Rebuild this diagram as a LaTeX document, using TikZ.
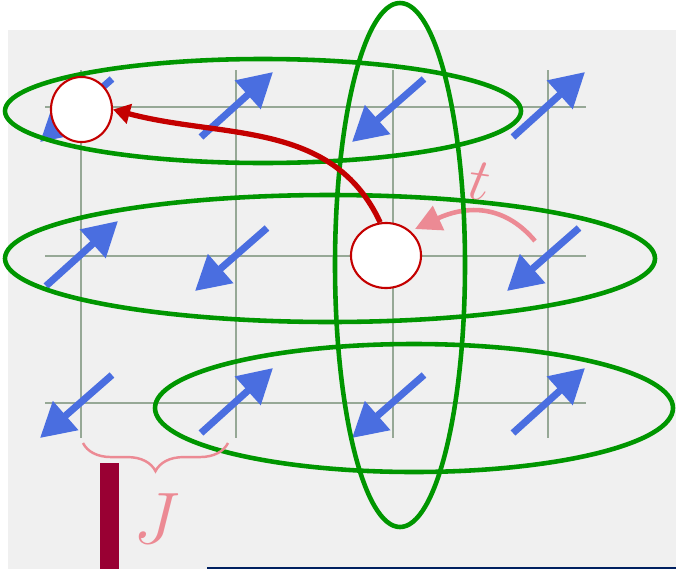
\documentclass[tikz,border=0pt]{standalone}
\usepackage{amsmath,amssymb}
\usepackage{tikz}
\usetikzlibrary{arrows.meta,positioning,shapes.geometric,decorations.pathreplacing}
\definecolor{spinblue}{RGB}{74,110,224}
\definecolor{ringgreen}{RGB}{0,150,0}
\definecolor{holered}{RGB}{196,0,0}
\definecolor{hoppink}{RGB}{236,138,148}
\definecolor{gridgreen}{RGB}{150,168,150}
\definecolor{barmaroon}{RGB}{153,0,51}
\definecolor{linenavy}{RGB}{0,32,96}
\tikzset{
  lattice-line/.style={draw=gridgreen, line width=0.45pt},
  spin-arrow/.style={draw=spinblue, line width=2pt, -{Triangle[length=9.7pt,width=10.5pt]}},
  cluster-ring/.style={draw=ringgreen, line width=1.3pt},
  hole-site/.style={ellipse, draw=holered, fill=white, line width=0.6pt, inner sep=0pt},
  hop-arrow/.style={draw=holered, line width=1.5pt, -{Triangle[length=4.8pt,width=5.6pt]}},
  exchange-arrow/.style={draw=hoppink, line width=1.3pt, -{Triangle[length=7.4pt,width=7.4pt]}}
}

\begin{document}
\begin{tikzpicture}[>=Latex, x=0.01cm, y=0.01cm]
  \useasboundingbox (0,0) rectangle (676,569);
  % paper background
  \fill[white] (0,0) rectangle (676,569);
  \fill[black!6] (8,0) rectangle (676,539);

  % lattice
  \draw[lattice-line] (45,462) -- (586,462);
  \draw[lattice-line] (45,313) -- (586,313);
  \draw[lattice-line] (45,166) -- (586,166);
  \draw[lattice-line] (81,499) -- (81,131);
  \draw[lattice-line] (236,499) -- (236,131);
  \draw[lattice-line] (393,499) -- (393,131);
  \draw[lattice-line] (548,499) -- (548,131);

  % spins, top row
  \draw[spin-arrow] (112,490) -- (40,427);
  \draw[spin-arrow] (201,432) -- (273,497);
  \draw[spin-arrow] (424,490) -- (352,427);
  \draw[spin-arrow] (513,432) -- (585,497);
  % spins, middle row
  \draw[spin-arrow] (46,283) -- (118,348);
  \draw[spin-arrow] (267,341) -- (195,278);
  \draw[spin-arrow] (579,341) -- (507,278);
  % spins, bottom row
  \draw[spin-arrow] (112,194) -- (40,131);
  \draw[spin-arrow] (201,136) -- (273,201);
  \draw[spin-arrow] (424,194) -- (352,131);
  \draw[spin-arrow] (513,136) -- (585,201);

  % exchange move and its label
  \coordinate (swing-start) at (535,328);
  \coordinate (swing-end) at (415,340);
  \draw[exchange-arrow] (swing-start) to[out=130,in=25,looseness=1.1] (swing-end);
  \node[text=hoppink, font=\fontsize{16}{18}\selectfont, rotate=-8] (hop-t) at (480,388) {$t$};

  % green clusters
  \draw[cluster-ring] (263,458) ellipse [x radius=258, y radius=52];
  \draw[cluster-ring] (330,310.5) ellipse [x radius=325, y radius=63.5];
  \draw[cluster-ring] (414,161) ellipse [x radius=259, y radius=64];
  \draw[cluster-ring] (400,304) ellipse [x radius=65, y radius=262];

  % holes and the hop between them
  \node[hole-site, minimum width=0.61cm, minimum height=0.65cm] (hole-left) at (81.5,459.5) {};
  \node[hole-site, minimum width=0.70cm, minimum height=0.65cm] (hole-right) at (386,313.5) {};
  \draw[hop-arrow] (hole-right.100) to[out=115,in=-15] (hole-left.east);

  % coupling brace
  \coordinate (brace-left) at (83,126);
  \coordinate (brace-right) at (228,126);
  \draw[hoppink, line width=0.7pt, decorate, decoration={brace, mirror, amplitude=8pt}] (brace-left) -- (brace-right);
  \node[text=hoppink, font=\fontsize{20}{24}\selectfont] (coupling) at (157,50) {$J$};

  % slide furniture
  \fill[barmaroon] (100,0) rectangle (119,106);
  \fill[linenavy] (207,0) rectangle (676,2.5);
\end{tikzpicture}
\end{document}
